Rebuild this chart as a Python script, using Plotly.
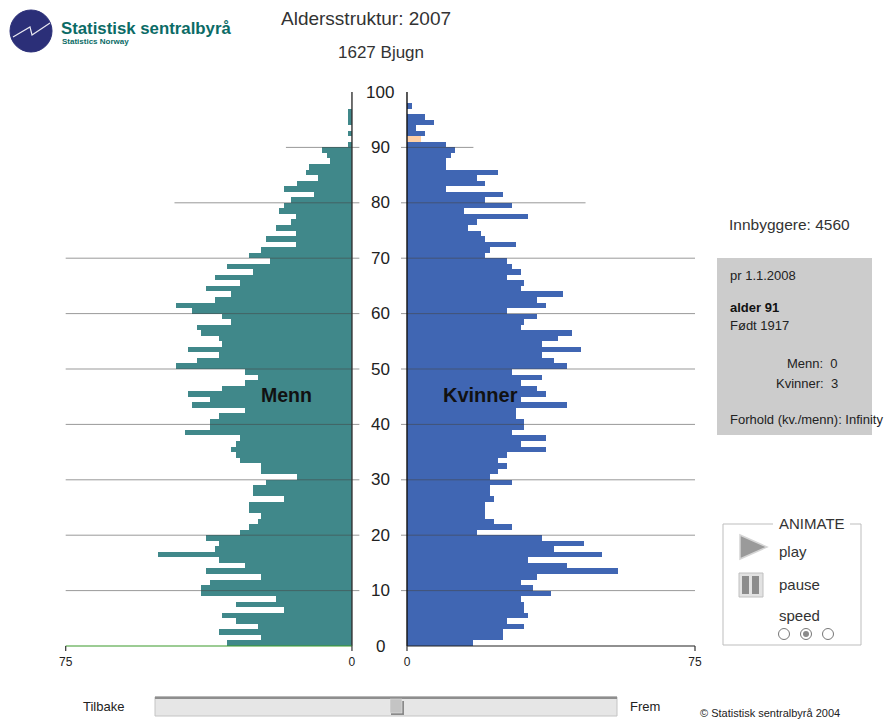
import plotly.graph_objects as go

ages = list(range(0, 100))
# Values listed from age 0 upward
menn = [32.7,23.8,35,24.8,30.4,34,17.8,30.4,20,39.6,
        39.6,37.3,23.8,38.3,28,35,50.8,36,35,38.3,
        29.4,27,24.8,23.8,27,27,17.8,26,26,22.5,
        14.5,23.8,23.8,29.4,30.4,31.8,30.4,29.4,43.9,37.3,
        37.3,35,28,41.9,37.3,42.9,34,28,24.8,28,
        46.2,40.6,35,42.9,34,35,39.6,40.6,31.8,34,
        41.9,46.2,36,31.8,38.3,29.4,36,26,32.7,21.5,
        27.1,23.8,14.6,22.5,14.6,20,16,14.6,19.2,17.8,
        16,10,17.8,14.5,9,12.2,11.3,5.7,6.6,8,
        1,0,1,0,1,1,1,0,0,0]
kvinner = [17.2,25,25,30.5,26,31.5,30.5,30.5,29.6,37.4,
           32.8,29.6,33.8,55,41.6,31.5,50.8,38.4,46.2,35.1,
           18.1,27.3,22.7,20.4,20.4,20.4,22.7,21.7,21.7,27.3,
           21.7,23.7,26,23.7,26,36.1,29.6,36.1,27.3,30.5,
           30.5,28.3,28.3,41.6,29.6,36.1,33.8,29.6,35.1,27.3,
           41.6,38.4,35.1,45.3,35.1,39.4,42.9,29.6,30.5,33.8,
           26,36.1,33.8,40.7,29.6,30.5,26,29.6,27.3,26,
           20.4,21.7,28.3,20.4,19.4,15.9,18.1,31.5,14.8,27.3,
           20.4,25,10.2,20.4,18.1,23.7,10.2,10.2,11.5,12.6,
           10.2,3.7,4.7,2.4,7,4.7,0,1.4,0,0]
highlight_age = 91
tick_ages = [0,10,20,30,40,50,60,70,80,90,100]
grid_ages = [10,20,30,40,50,60,70,80,90]
grid_reach = {10:75,20:75,30:75,40:75,50:75,60:75,70:75,80:46.5,90:17.3}
x_ticks = [0, 75]

TEAL = "#40888A"; BLUE = "#4066B3"; ORANGE = "#FFCFA5"; FONT = "Liberation Sans"
W, H = 885, 719
px = lambda v: v / W
py = lambda v: 1 - v / H

fig = go.Figure()
fig.add_trace(go.Bar(x=menn, y=[a + 0.5 for a in ages], orientation="h", width=1,
                     marker=dict(color=TEAL, line_width=0), xaxis="x", yaxis="y", showlegend=False))
fig.add_trace(go.Bar(x=kvinner, y=[a + 0.5 for a in ages], orientation="h", width=1,
                     marker=dict(color=[ORANGE if a == highlight_age else BLUE for a in ages], line_width=0),
                     xaxis="x2", yaxis="y", showlegend=False))

shapes = []
def line(x0, y0, x1, y1, color, width, xref="paper", yref="paper"):
    shapes.append(dict(type="line", x0=x0, y0=y0, x1=x1, y1=y1, xref=xref, yref=yref,
                       line=dict(color=color, width=width), layer="above"))
def rect(x0, y0, x1, y1, fill, color=None, width=0):
    shapes.append(dict(type="rect", x0=px(x0), y0=py(y0), x1=px(x1), y1=py(y1), xref="paper", yref="paper",
                       fillcolor=fill, line=dict(color=color or fill, width=width), layer="below"))
def circle(cx, cy, r, fill, color, width=1):
    shapes.append(dict(type="circle", x0=px(cx-r), x1=px(cx+r), y0=py(cy+r), y1=py(cy-r), xref="paper", yref="paper",
                       fillcolor=fill, line=dict(color=color, width=width), layer="above"))
def poly(points, fill=None, color=None, width=0, close=True):
    d = "M " + " L ".join(f"{px(x):.5f},{py(y):.5f}" for x, y in points) + (" Z" if close else "")
    shapes.append(dict(type="path", path=d, xref="paper", yref="paper",
                       fillcolor=fill or "rgba(0,0,0,0)", line=dict(color=color or "rgba(0,0,0,0)", width=width), layer="above"))

for a in grid_ages:
    line(-2, a, grid_reach[a], a, "rgba(70,70,70,0.55)", 1, "x", "y")
    line(-1.56, a, grid_reach[a], a, "rgba(70,70,70,0.55)", 1, "x2", "y")
line(0, 0, 0, 100, "#333333", 1.4, "x", "y")
line(0, 0, 0, 100, "#111111", 1.4, "x2", "y")
line(0, 0, 75, 0, "#3a9a2a", 1.2, "x", "y")
line(0, 0, 75, 0, "#222222", 1.2, "x2", "y")
for t in x_ticks:
    line(t, 0, t, -0.9, "#333333", 1.2, "x", "y")
    line(t, 0, t, -0.9, "#333333", 1.2, "x2", "y")

# Logo
circle(31, 31, 21, "#2B2F78", "#2B2F78")
poly([(13, 37), (30, 27), (32, 35), (50, 23)], None, "#E8E8F0", 1.2, close=False)
# Info box
rect(717, 258, 872, 435, "#CCCCCC")
# Animate box
rect(723, 524, 861, 645, "#FFFFFF", "#BDBDBD", 1)
rect(773, 516, 850, 532, "#FFFFFF")
poly([(740, 535), (740, 559), (767, 547)], "#9A9A9A", "#D5D5D5", 1.5)
rect(739, 573, 763, 597, "#E2E2E2", "#C0C0C0", 1)
rect(742, 576, 749, 594, "#8C8C8C")
rect(752, 576, 759, 594, "#8C8C8C")
circle(784, 634, 5.5, "#FFFFFF", "#777777", 1)
circle(806, 634, 5.5, "#FFFFFF", "#777777", 1)
circle(806, 634, 3, "#8A8A8A", "#8A8A8A", 0)
circle(828, 634, 5.5, "#FFFFFF", "#777777", 1)
# Slider
rect(155, 697, 617, 716, "#E6E6E6", "#C4C4C4", 1)
rect(155, 696.5, 617, 699, "#8E8E8E")
rect(391, 701, 404, 715, "#8A8A8A")
rect(390, 699, 402, 713, "#C4C4C4", "#E8E8E8", 0.5)

def text(x, y, s, size=12, color="#222222", anchor="center", bold=False):
    dx = {"left": -1.5, "right": 1.5, "center": 0}[anchor]
    fig.add_annotation(x=px(x + dx), y=py(y - 0.8), xref="paper", yref="paper", text=f"<b>{s}</b>" if bold else s,
                       showarrow=False, xanchor=anchor, yanchor="middle",
                       font=dict(family=FONT, size=size, color=color))

for a in tick_ages:
    fig.add_annotation(x=px(380), xref="paper", y=a, yref="y", text=str(a), showarrow=False,
                       xanchor="center", yanchor="middle", font=dict(family=FONT, size=17, color="#222222"))

text(366, 19, "Aldersstruktur: 2007", 19, "#333333")
text(381, 53, "1627 Bjugn", 17, "#333333")
text(60, 29, "Statistisk sentralbyrå", 16.8, "#0B6B66", "left", True)
text(61, 42, "Statistics Norway", 8, "#0B6B66", "left", True)
text(286, 396, "Menn", 19.5, "#111111", bold=True)
text(480, 396, "Kvinner", 20, "#111111", bold=True)
text(728, 225, "Innbyggere: 4560", 15.5, "#333333", "left")
text(729, 276, "pr 1.1.2008", 13, "#222222", "left")
text(729, 308, "alder 91", 13, "#111111", "left", True)
text(729, 326, "Født 1917", 13, "#222222", "left")
text(838, 364, "Menn:  0", 13, "#222222", "right")
text(838, 384, "Kvinner:  3", 13, "#222222", "right")
text(729, 420, "Forhold (kv./menn): Infinity", 13, "#222222", "left")
text(812, 524, "ANIMATE", 15, "#333333")
text(778, 552, "play", 15, "#333333", "left")
text(778, 585, "pause", 15, "#333333", "left")
text(778, 616, "speed", 15, "#333333", "left")
text(103, 707, "Tilbake", 13, "#222222")
text(645, 707, "Frem", 13, "#222222")
text(770, 714, "© Statistisk sentralbyrå 2004", 11, "#222222")

tickfont = dict(family=FONT, size=12, color="#222222")
ppu_m = (352 - 65.7) / 75
ppu_w = (695 - 407) / 75
ppy = (646 - 92) / 100
fig.update_layout(
    width=W, height=H, margin=dict(l=0, r=0, t=0, b=0, pad=0), autosize=False,
    paper_bgcolor="white", plot_bgcolor="rgba(0,0,0,0)", barmode="overlay", bargap=0,
    shapes=shapes,
    xaxis=dict(domain=[px(65.7 - 0.5 * ppu_m), px(359.6)], range=[75.5, -2], tickvals=x_ticks, ticks="", showgrid=False,
               zeroline=False, showline=False, tickfont=tickfont, automargin=False, ticklabelstandoff=0),
    xaxis2=dict(domain=[px(401), px(695 + 0.5 * ppu_w)], range=[-1.56, 75.5], tickvals=x_ticks, ticks="", showgrid=False,
                zeroline=False, showline=False, tickfont=tickfont, anchor="y", automargin=False, ticklabelstandoff=0),
    yaxis=dict(domain=[py(646 + 1.3 * ppy), py(92)], range=[-1.3, 100], showgrid=False, zeroline=False, showline=False,
               showticklabels=False, ticks="", automargin=False),
)
fig.write_html("out.html", config={"displayModeBar": False}, post_script="document.body.style.margin='0';")
